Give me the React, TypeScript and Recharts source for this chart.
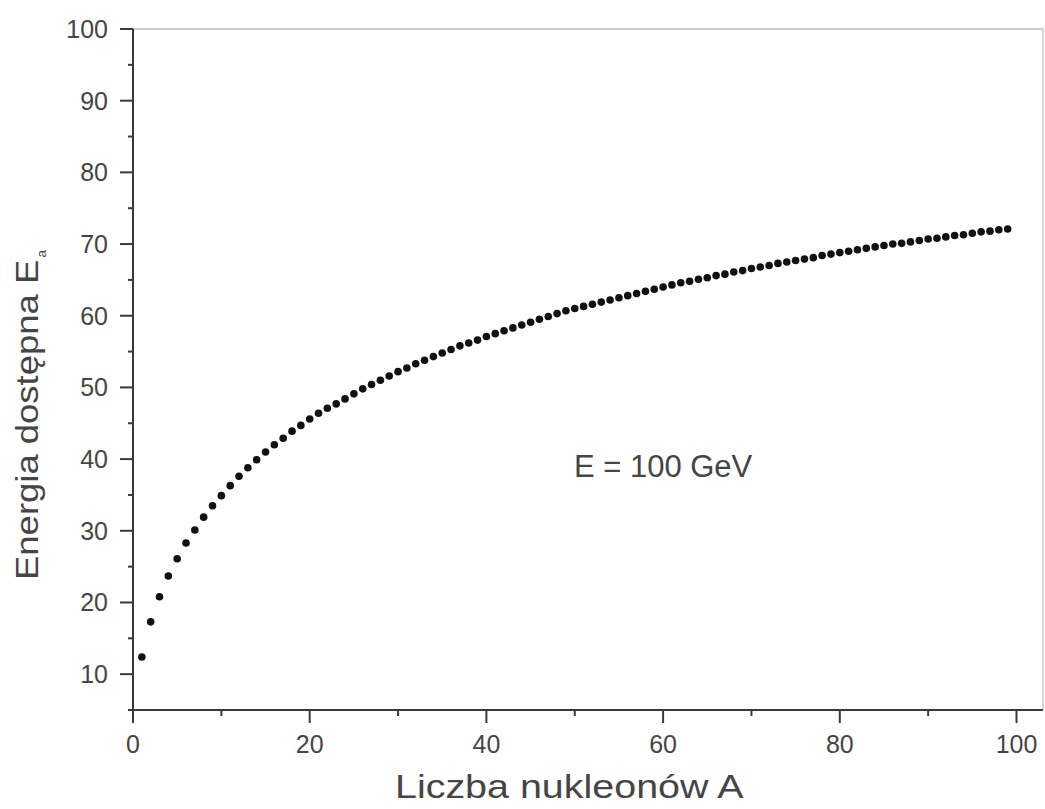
import React from "react";
import { ScatterChart, Scatter, XAxis, YAxis, ReferenceLine, ReferenceDot } from "recharts";

// liczba nukleonów A
const nucleons = [
  1, 2, 3, 4, 5, 6, 7, 8, 9, 10, 11, 12, 13, 14, 15, 16, 17, 18, 19, 20,
  21, 22, 23, 24, 25, 26, 27, 28, 29, 30, 31, 32, 33, 34, 35, 36, 37, 38, 39, 40,
  41, 42, 43, 44, 45, 46, 47, 48, 49, 50, 51, 52, 53, 54, 55, 56, 57, 58, 59, 60,
  61, 62, 63, 64, 65, 66, 67, 68, 69, 70, 71, 72, 73, 74, 75, 76, 77, 78, 79, 80,
  81, 82, 83, 84, 85, 86, 87, 88, 89, 90, 91, 92, 93, 94, 95, 96, 97, 98, 99,
];

// energia dostępna E_a (GeV)
const energyAvail = [
  12.4, 17.3, 20.8, 23.7, 26.1, 28.3, 30.1, 31.9, 33.5, 34.9,
  36.3, 37.6, 38.8, 39.9, 41.0, 42.0, 42.9, 43.9, 44.7, 45.6,
  46.4, 47.1, 47.7, 48.4, 49.1, 49.8, 50.4, 51.0, 51.6, 52.2,
  52.7, 53.3, 53.8, 54.3, 54.8, 55.3, 55.8, 56.2, 56.6, 57.1,
  57.5, 57.9, 58.3, 58.7, 59.1, 59.5, 59.9, 60.3, 60.7, 61.0,
  61.3, 61.6, 61.9, 62.2, 62.5, 62.8, 63.1, 63.4, 63.7, 64.0,
  64.3, 64.6, 64.8, 65.1, 65.3, 65.6, 65.8, 66.1, 66.3, 66.6,
  66.8, 67.0, 67.3, 67.5, 67.7, 67.9, 68.1, 68.4, 68.6, 68.8,
  69.0, 69.2, 69.4, 69.6, 69.8, 70.0, 70.1, 70.3, 70.5, 70.7,
  70.8, 71.0, 71.2, 71.3, 71.5, 71.7, 71.8, 72.0, 72.1,
];

const xTicks = [0, 10, 20, 30, 40, 50, 60, 70, 80, 90, 100];
const xLabelled = [0, 20, 40, 60, 80, 100];
const yTicks = [5, 10, 15, 20, 25, 30, 35, 40, 45, 50, 55, 60, 65, 70, 75, 80, 85, 90, 95, 100];
const yLabelled = [10, 20, 30, 40, 50, 60, 70, 80, 90, 100];

const data = nucleons.map((a, i) => ({ a, e: energyAvail[i] }));

const FONT = "'Liberation Sans', Arial, sans-serif";
const AXIS = "#3a3a3a";
const TEXT = "#454545";

const XTick = ({ x, y, payload }: any) => {
  const major = xLabelled.includes(payload.value);
  return (
    <g>
      <line x1={x} x2={x} y1={y} y2={y + (major ? 13 : 6)} stroke={AXIS} strokeWidth={2} />
      {major && (
        <text x={x} y={y + 43} textAnchor="middle" fontSize={25} fontFamily={FONT} fill={TEXT}>
          {payload.value}
        </text>
      )}
    </g>
  );
};

const YTick = ({ x, y, payload }: any) => {
  const major = yLabelled.includes(payload.value);
  return (
    <g>
      <line x1={x - (major ? 13 : 5)} x2={x} y1={y} y2={y} stroke={AXIS} strokeWidth={2} />
      {major && (
        <text x={x - 25} y={y + 9} textAnchor="end" fontSize={25} fontFamily={FONT} fill={TEXT}>
          {payload.value}
        </text>
      )}
    </g>
  );
};

const Dot = (props: any) => <circle cx={props.cx} cy={props.cy} r={3.8} fill="#111" />;

export default function App() {
  return (
    <div style={{ position: "absolute", left: 0, top: 0, background: "#fff" }}>
      <ScatterChart width={1045} height={809} margin={{ top: 29, right: 2, left: 0, bottom: 0 }}>
        <XAxis
          type="number"
          dataKey="a"
          domain={[0, 103]}
          ticks={xTicks}
          interval={0}
          height={99}
          tickSize={0}
          tickMargin={0}
          tickLine={false}
          axisLine={{ stroke: AXIS, strokeWidth: 2 }}
          tick={<XTick />}
          allowDataOverflow
          label={{
            content: () => (
              <text
                transform="translate(395,798) scale(1.16,1)"
                fontSize={34}
                fontFamily={FONT}
                fill={TEXT}
              >
                Liczba nukleonów A
              </text>
            ),
          }}
        />
        <YAxis
          type="number"
          dataKey="e"
          domain={[5, 100]}
          ticks={yTicks}
          interval={0}
          width={133}
          tickSize={0}
          tickMargin={0}
          tickLine={false}
          axisLine={{ stroke: AXIS, strokeWidth: 2 }}
          tick={<YTick />}
          allowDataOverflow
          label={{
            content: () => (
              <text
                transform="translate(38,580) rotate(-90) scale(1.14,1)"
                fontSize={32}
                fontFamily={FONT}
                fill={TEXT}
              >
                Energia dostępna E
                <tspan fontSize={12} dx={2} dy={8}>a</tspan>
              </text>
            ),
          }}
        />
        <ReferenceLine y={100} stroke="#b8b8b8" strokeWidth={1.5} />
        <ReferenceLine x={103} stroke="#c8c8c8" strokeWidth={1.5} />
        <ReferenceDot
          x={60}
          y={39}
          r={0}
          fill="none"
          stroke="none"
          label={{
            value: "E = 100 GeV",
            position: "center",
            fontSize: 31,
            fontFamily: FONT,
            fill: TEXT,
          }}
        />
        <Scatter data={data} shape={<Dot />} isAnimationActive={false} />
      </ScatterChart>
    </div>
  );
}
